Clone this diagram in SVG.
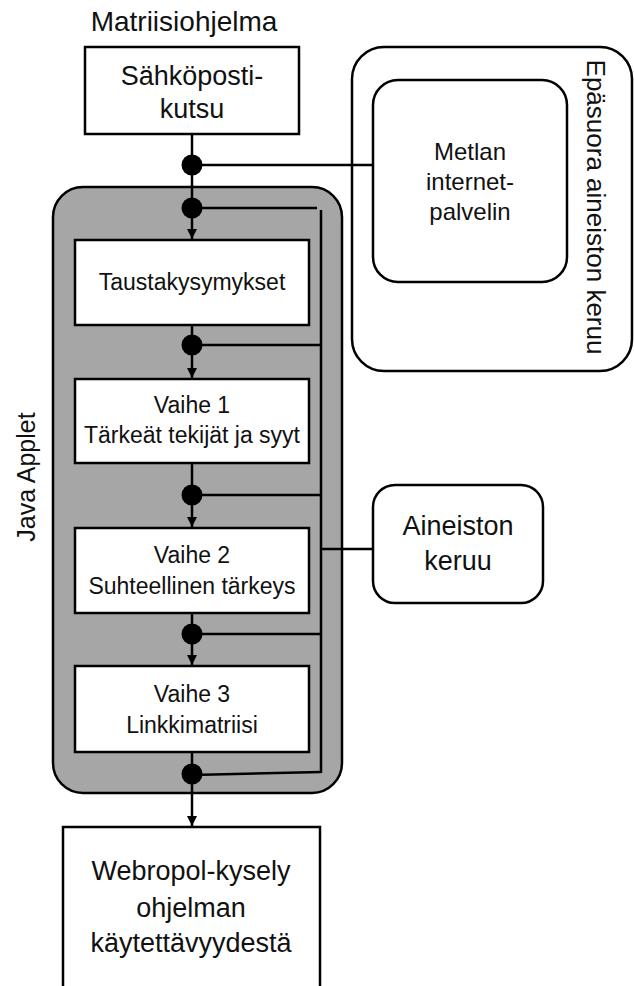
<svg xmlns="http://www.w3.org/2000/svg" width="634" height="986" viewBox="0 0 634 986">
  <style>
    .box { fill: #ffffff; stroke: #000000; stroke-width: 2.5; }
    .panel { fill: #a6a6a6; stroke: #000000; stroke-width: 2.5; }
    .line { fill: none; stroke: #000000; stroke-width: 2.5; }
    .dot { fill: #000000; }
    text { font-family: "Liberation Sans", Arial, sans-serif; fill: #111111; text-anchor: middle; }
    .t23 { font-size: 23px; }
    .t24 { font-size: 24px; }
    .t27 { font-size: 27px; }
  </style>
  <defs>
    <marker id="arrow" markerUnits="userSpaceOnUse" markerWidth="12" markerHeight="12" viewBox="0 0 12 12" refX="10" refY="6" orient="auto">
      <path d="M0,1 L10,6 L0,11 Z" fill="#000000"/>
    </marker>
  </defs>

  <!-- Program title -->
  <text id="title" class="t27" x="184" y="31" style="font-size:28px">Matriisiohjelma</text>

  <!-- Indirect data collection container -->
  <g id="epasuora">
    <rect class="box" x="352" y="47" width="280" height="324" rx="32"/>
    <text class="t27" transform="translate(587,207) rotate(90)" style="font-size:26px">Epäsuora aineiston keruu</text>
  </g>

  <!-- Java applet panel -->
  <g id="java-applet">
    <rect class="panel" x="53" y="187" width="289" height="606" rx="30"/>
    <text class="t27" transform="translate(35,477) rotate(-90)" style="font-size:25px">Java Applet</text>
  </g>

  <g id="sahkoposti">
    <rect class="box" x="85" y="47" width="214" height="87"/>
    <text class="t27" x="192" y="85">Sähköposti-</text>
    <text class="t27" x="192" y="118">kutsu</text>
  </g>

  <g id="metlan">
    <rect class="box" x="373" y="80" width="194" height="202" rx="25"/>
    <text class="t24" x="470" y="160">Metlan</text>
    <text class="t24" x="470" y="190">internet-</text>
    <text class="t24" x="470" y="220">palvelin</text>
  </g>

  <g id="taustakysymykset">
    <rect class="box" x="75" y="240" width="234" height="85"/>
    <text class="t23" x="192" y="290">Taustakysymykset</text>
  </g>

  <g id="vaihe1">
    <rect class="box" x="75" y="379" width="234" height="84"/>
    <text class="t23" x="192" y="413">Vaihe 1</text>
    <text class="t23" x="192" y="443">Tärkeät tekijät ja syyt</text>
  </g>

  <g id="vaihe2">
    <rect class="box" x="75" y="528" width="234" height="85"/>
    <text class="t23" x="192" y="563">Vaihe 2</text>
    <text class="t23" x="192" y="594">Suhteellinen tärkeys</text>
  </g>

  <g id="vaihe3">
    <rect class="box" x="75" y="666" width="234" height="86"/>
    <text class="t23" x="192" y="702">Vaihe 3</text>
    <text class="t23" x="192" y="733">Linkkimatriisi</text>
  </g>

  <g id="aineiston-keruu">
    <rect class="box" x="373" y="485" width="170" height="118" rx="22"/>
    <text class="t27" x="458" y="535">Aineiston</text>
    <text class="t27" x="458" y="570">keruu</text>
  </g>

  <g id="webropol">
    <rect class="box" x="63" y="827" width="257" height="170"/>
    <text class="t27" x="191" y="880">Webropol-kysely</text>
    <text class="t27" x="191" y="917">ohjelman</text>
    <text class="t27" x="191" y="952">käytettävyydestä</text>
  </g>

  <!-- Connectors -->
  <g id="connectors">
    <!-- main flow -->
    <line class="line" x1="192" y1="134" x2="192" y2="208"/>
    <line class="line" x1="192" y1="208" x2="192" y2="239" marker-end="url(#arrow)"/>
    <line class="line" x1="192" y1="325" x2="192" y2="345"/>
    <line class="line" x1="192" y1="345" x2="192" y2="378" marker-end="url(#arrow)"/>
    <line class="line" x1="192" y1="463" x2="192" y2="495"/>
    <line class="line" x1="192" y1="495" x2="192" y2="527" marker-end="url(#arrow)"/>
    <line class="line" x1="192" y1="613" x2="192" y2="634"/>
    <line class="line" x1="192" y1="634" x2="192" y2="665" marker-end="url(#arrow)"/>
    <line class="line" x1="192" y1="752" x2="192" y2="774"/>
    <line class="line" x1="192" y1="774" x2="192" y2="826" marker-end="url(#arrow)"/>

    <!-- link to web service -->
    <line class="line" x1="192" y1="165" x2="373" y2="165"/>

    <!-- data bus -->
    <line class="line" x1="192" y1="208" x2="317" y2="208"/>
    <line class="line" x1="321" y1="210" x2="321" y2="773"/>
    <line class="line" x1="192" y1="345" x2="321" y2="345"/>
    <line class="line" x1="192" y1="495" x2="321" y2="495"/>
    <line class="line" x1="192" y1="634" x2="321" y2="634"/>
    <line class="line" x1="192" y1="775" x2="321" y2="772"/>
    <line class="line" x1="321" y1="549" x2="373" y2="549"/>

    <!-- junction dots -->
    <circle class="dot" cx="192" cy="165" r="10.5"/>
    <circle class="dot" cx="192" cy="208" r="10.5"/>
    <circle class="dot" cx="192" cy="345" r="10.5"/>
    <circle class="dot" cx="192" cy="495" r="10.5"/>
    <circle class="dot" cx="192" cy="634" r="10.5"/>
    <circle class="dot" cx="192" cy="774" r="10.5"/>
  </g>
</svg>
